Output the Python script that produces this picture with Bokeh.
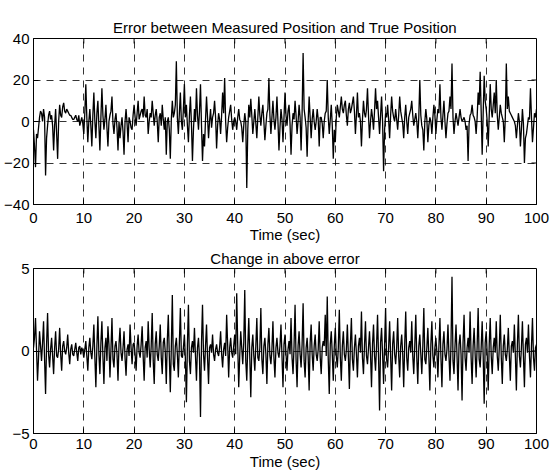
from bokeh.plotting import figure
from bokeh.models import FixedTicker, Range1d
from bokeh.layouts import column
from bokeh.embed import file_html
from bokeh.resources import INLINE

# ---- data (one sample every 0.2 s) ----
position_error = [
    -4, -12, -22, -6, -8, -3, 2, 5, 4, 0, 6, 2, -26, -8, -2, 3, 5, 1, 3, -2,
    -14, -2, 6, -6, -18, 0, 8, 3, 2, 7, 9, 5, 4, 6, 5, 4, 3, 3, 2, 1,
    1, 2, 3, 1, 0, 3, -2, 0, 2, -1, -6, 4, 18, 2, -10, 0, 6, -2, -12, 3,
    14, 0, -8, 4, 10, -2, -14, 2, 16, 3, -4, 1, 8, -3, -12, 0, 3, 5, 12, -1,
    -6, 1, 4, -3, -14, 0, -8, -2, 2, -5, -16, 0, 6, -1, -10, 2, 0, -3, -4, 3,
    8, 2, -2, 4, 10, 1, 3, 5, 6, 2, 12, 3, 2, 6, -6, 0, 4, 2, 10, 4,
    -2, 3, 6, 0, -10, 2, 4, -2, 8, 1, -4, 2, -16, 0, 2, -4, -18, 1, 10, 2,
    4, 8, 29, 2, -6, 4, 14, 0, -4, 6, 18, 2, 8, -2, -10, 3, 12, -1, -19, -4,
    6, 0, 16, 3, -4, 5, 18, -2, -19, -6, -12, 1, 12, 2, -8, 0, 6, -3, 2, 4,
    10, 2, -13, -2, 4, 1, -6, 3, 14, 4, 21, 0, -10, -3, 2, 5, 8, 1, -4, 0,
    2, 0, -4, 2, 6, 1, 0, -3, -10, -2, 4, 0, -32, -4, 8, 2, 11, 3, -6, 0,
    6, -1, -8, 2, 12, 3, -2, 4, 8, 0, -9, -2, 4, 6, 21, 3, -6, 2, 10, 1,
    -4, 2, 12, 0, -14, -3, 6, 1, -10, 2, 14, 3, -2, 5, 8, -1, -16, -2, 4, 1,
    10, 3, -6, 0, 8, 2, -14, 4, 33, 6, 2, -3, -17, 0, 12, 2, -8, 1, 6, 0,
    -4, 0, 6, 1, -12, 2, 2, -1, -8, 0, 4, 5, 20, 2, -6, 1, 8, -2, -18, -4,
    -10, 2, 8, 5, 2, 7, 12, 6, 4, 8, 10, 3, -2, 6, 9, 4, 6, 9, 12, 5,
    -6, 3, 14, 2, 4, 0, -12, 1, 10, 4, 2, 6, 16, 3, -8, 0, 6, 2, -4, 5,
    16, 6, 10, 2, -6, 3, 12, 0, -24, -4, 4, 2, 8, 1, -8, 3, 12, 5, 2, 0,
    6, 1, -4, 3, 12, 5, 2, -1, -8, 2, 8, 0, -6, 2, 4, 6, 10, 3, -2, 1,
    4, 0, -8, 2, 20, 3, -2, -4, -14, 0, 6, 1, -10, -2, 2, 0, -6, 2, 8, 3,
    -6, 1, 6, 4, 18, 2, -4, 3, 10, 0, -8, -1, 4, 5, 12, 6, 28, 2, -6, 0,
    4, 1, -2, 2, 6, 2, 0, 1, 2, 0, -4, -2, -19, -1, 3, 4, 8, 3, 2, 0,
    -6, 2, 14, 8, 24, 5, -16, 4, 22, 10, 6, 0, -12, 3, 18, 6, 2, 8, 14, 4,
    20, 3, -4, 2, 8, 4, 2, 0, -10, 2, 28, 6, 12, 5, 4, 3, 2, 1, 0, -2,
    -8, -2, 4, 0, -12, -4, 6, -1, -20, -8, -6, -2, 2, 1, 16, 2, -10, -3, 4, 2,
    6,
]

error_change = [
    0.2, 0.8, 2.0, 0.1, -1.8, -0.4, 1.2, 0.3, -0.6, 0.5, 1.8, -0.5, -2.6, 0.4, 2.3, -0.2, -1.0, 0.1, 0.8, -0.3,
    -1.4, 0.2, 1.2, -0.3, -0.4, 0.1, 1.4, -0.2, -1.2, 0.3, 0.6, 0.0, -0.2, 0.2, 1.0, -0.1, -0.8, 0.1, 0.4, -0.2,
    -0.3, 0.1, 0.5, -0.1, -0.6, 0.2, 0.3, -0.2, 0.2, 0.0, -0.4, 0.1, 0.6, -0.3, -1.2, 0.2, 0.8, -0.1, -0.5, 0.3,
    1.6, -0.4, -2.2, 0.3, 2.1, -0.2, -1.4, 0.5, 1.8, -0.3, -2.0, 0.2, 0.8, -0.6, 1.5, 0.4, -1.6, 0.1, 2.0, -0.5,
    -1.0, 0.3, 0.6, -0.2, -1.8, 0.4, 1.4, -0.1, -0.6, 0.2, 1.2, -0.4, -1.5, 0.1, 0.4, -0.3, 1.6, 0.2, -0.8, 0.4,
    0.5, -0.2, -1.2, 0.3, 1.0, -0.1, -0.4, 0.4, 1.5, -0.3, -1.8, 0.2, 0.6, -0.4, 1.8, 0.1, -1.0, 0.3, 2.3, -0.6,
    -2.0, 0.4, 1.2, -0.2, -0.6, 0.3, 1.6, -0.4, -1.4, 0.5, 0.8, -0.1, -2.0, 0.6, 2.2, -0.3, -2.5, 0.2, 3.4, -0.8,
    -1.2, 0.3, 0.8, -0.2, -1.6, 0.5, 2.6, -0.3, -0.4, 0.2, 1.0, -0.5, -3.1, 0.4, 2.8, -0.6, -1.4, 0.2, 0.6, -0.1,
    1.4, -0.3, -1.8, 0.2, 0.8, -0.4, -4.0, 0.5, 2.8, -0.2, -1.2, 0.3, 1.6, -0.4, -2.0, 0.2, 0.4, -0.1, 1.0, -0.2,
    -0.6, 0.1, 0.4, -0.1, -0.3, 0.2, 1.2, -0.2, -1.0, 0.1, 0.5, -0.3, 2.2, 0.4, -1.6, 0.2, 0.8, -0.1, -0.4, 0.3,
    1.0, -0.2, 3.5, 0.4, -2.2, -0.3, 1.2, 0.2, -0.8, 0.5, 3.7, -0.6, -1.8, 0.3, 2.0, -0.4, -2.8, 0.2, 1.0, -0.3,
    -1.2, 0.3, 2.0, -0.4, -0.6, 0.2, 2.6, -0.5, -1.4, 0.3, 0.8, -0.2, -2.0, 0.4, 1.4, -0.3, -0.8, 0.1, 1.8, -0.4,
    -1.6, 0.2, 0.8, -0.1, -0.4, 0.3, 1.6, -0.3, -2.2, 0.4, 1.0, -0.2, -1.2, 0.1, 0.6, -0.2, 2.0, -0.4, -1.4, 0.3,
    2.8, -0.5, -2.2, 0.3, 1.2, -0.2, -1.0, 0.4, 2.9, -0.6, -1.6, 0.2, 0.8, -0.3, -2.4, 0.5, 1.6, -0.2, -1.2, 0.3,
    1.0, -0.2, -0.6, 0.1, 1.8, -0.4, -1.4, 0.2, 0.6, 0.3, 2.2, -0.3, 3.3, -0.5, -2.6, 0.4, 1.2, -0.2, -1.8, 0.3,
    1.4, -0.3, -1.0, 0.2, 2.5, -0.4, -1.8, 0.3, 1.2, -0.2, -0.6, 0.1, 1.6, -0.3, -2.3, 0.4, 2.0, -0.5, -1.2, 0.2,
    1.0, -0.2, -1.6, 0.3, 0.8, -0.1, 2.4, -0.4, -1.4, 0.3, 1.8, -0.3, -0.8, 0.2, 1.2, -0.2, -2.2, 0.4, 1.6, -0.3,
    -1.2, 0.3, 2.2, -0.4, -3.6, 0.5, 1.4, -0.2, -2.0, 0.4, 2.6, -0.5, -1.0, 0.2, 1.8, -0.3, -2.4, 0.4, 1.2, -0.2,
    -0.8, 0.2, 2.0, -0.3, -1.6, 0.3, 1.0, -0.2, -2.2, 0.4, 2.4, -0.4, -1.2, 0.2, 0.6, -0.1, 1.8, -0.3, -1.4, 0.3,
    2.2, -0.4, -2.0, 0.3, 1.0, -0.2, -1.4, 0.3, 2.6, -0.5, -0.8, 0.2, 1.4, -0.3, -2.4, 0.4, 1.8, -0.3, -1.0, 0.2,
    0.8, -0.1, -1.6, 0.3, 2.0, -0.4, -2.2, 0.4, 1.2, -0.2, -0.6, 0.1, 1.6, -0.3, -1.8, 0.4, 4.5, -0.6, -1.4, 0.3,
    1.6, -0.3, -2.4, 0.4, 1.0, -0.2, -3.0, 0.5, 2.2, -0.4, -1.2, 0.2, 0.8, -0.1, 2.4, -0.4, -2.0, 0.3, 1.4, -0.2,
    -1.6, 0.3, 2.6, -0.5, -1.0, 0.2, 1.8, -0.3, -3.2, 0.5, 1.2, -0.2, -2.4, 0.4, 2.0, -0.3, -1.4, 0.2, 0.8, -0.1,
    1.8, -0.3, -1.2, 0.2, 2.2, -0.4, -2.0, 0.3, 1.0, -0.2, -0.6, 0.1, 1.4, -0.3, -1.8, 0.3, 0.6, -0.1, 1.6, -0.3,
    -2.4, 0.4, 2.2, -0.3, -1.0, 0.2, 1.8, -0.3, -2.2, 0.4, 0.8, -0.1, 1.6, -0.3, -1.6, 0.3, 2.0, -0.4, -1.2, 0.2,
    0.4,
]

sample_step = 0.2
time_sec = [round(i * sample_step, 1) for i in range(len(position_error))]

x_ticks = [0, 10, 20, 30, 40, 50, 60, 70, 80, 90, 100]
top_y_ticks = [-40, -20, 0, 20, 40]
bottom_y_ticks = [-5, 0, 5]

top_title = "Error between Measured Position and True Position"
bottom_title = "Change in above error"
x_label = "Time (sec)"

FONT = "Liberation Sans"
FS = "15px"
FRAME_W = 503
TICK_PX = 5


def style_axis(ax):
    ax.axis_line_color = "black"
    ax.axis_line_width = 1
    ax.major_tick_in = TICK_PX
    ax.major_tick_out = 0
    ax.major_tick_line_color = "black"
    ax.minor_tick_line_color = None
    ax.major_label_text_font = FONT
    ax.major_label_text_font_size = FS
    ax.major_label_text_color = "black"


def make_fig(ys, y_lo, y_hi, y_ticks, frame_h, top_border, title, title_standoff,
             tick_standoff, label_standoff):
    p = figure(frame_width=FRAME_W, frame_height=frame_h,
               x_range=Range1d(0, 100), y_range=Range1d(y_lo, y_hi),
               output_backend="svg", toolbar_location=None,
               min_border_left=33, min_border_right=14,
               min_border_top=top_border, min_border_bottom=0)
    p.title.text = title
    p.title.align = "center"
    p.title.text_font = FONT
    p.title.text_font_size = FS
    p.title.text_font_style = "normal"
    p.title.text_color = "black"
    p.title.standoff = title_standoff

    p.line(time_sec, ys, line_color="black", line_width=1.3)

    p.xaxis.ticker = FixedTicker(ticks=x_ticks)
    p.yaxis.ticker = FixedTicker(ticks=y_ticks)
    style_axis(p.xaxis[0])
    style_axis(p.yaxis[0])
    p.yaxis.major_label_standoff = 4
    p.xaxis.major_label_standoff = tick_standoff
    p.xaxis.axis_label = x_label
    p.xaxis.axis_label_text_font = FONT
    p.xaxis.axis_label_text_font_size = FS
    p.xaxis.axis_label_text_font_style = "normal"
    p.xaxis.axis_label_text_color = "black"
    p.xaxis.axis_label_standoff = label_standoff

    # inward tick marks on the top and right edges (box style)
    dx = 100 / FRAME_W * TICK_PX
    dy = (y_hi - y_lo) / frame_h * TICK_PX
    inner_x = x_ticks[1:-1]
    inner_y = y_ticks[1:-1]
    p.segment(x0=inner_x, y0=[y_hi] * len(inner_x), x1=inner_x,
              y1=[y_hi - dy] * len(inner_x), line_color="black", line_width=1)
    p.segment(x0=[100] * len(inner_y), y0=inner_y, x1=[100 - dx] * len(inner_y),
              y1=inner_y, line_color="black", line_width=1)

    for g in (p.xgrid[0], p.ygrid[0]):
        g.grid_line_color = "black"
        g.grid_line_dash = "7 6"
        g.grid_line_width = 0.8
    p.xgrid.ticker = FixedTicker(ticks=x_ticks)
    p.ygrid.ticker = FixedTicker(ticks=y_ticks)

    p.outline_line_color = "black"
    p.outline_line_width = 1
    p.background_fill_color = "white"
    p.border_fill_color = "white"
    return p


p_top = make_fig(position_error, -40, 40, top_y_ticks, 166, 38, top_title, 6, 8, 0)
p_bot = make_fig(error_change, -5, 5, bottom_y_ticks, 165, 22, bottom_title, 4, 5, 1)

layout = column(p_top, p_bot, spacing=0)
open("out.html", "w").write(file_html(layout, INLINE))
